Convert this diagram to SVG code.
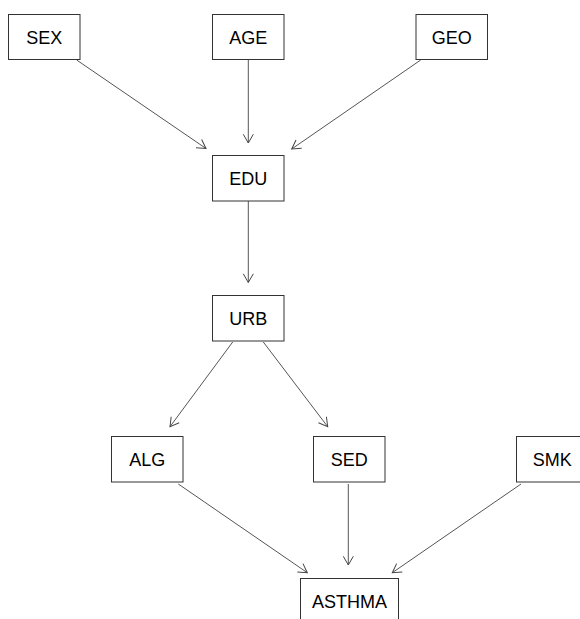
<svg xmlns="http://www.w3.org/2000/svg" width="580" height="619" viewBox="0 0 580 619">
  <style>
    .box { fill: #ffffff; stroke: #333333; stroke-width: 1; }
    .lbl { font-family: "Liberation Sans", Arial, sans-serif; font-size: 18px; fill: #000000; text-anchor: middle; }
    .edge { fill: none; stroke: #555555; stroke-width: 1; marker-end: url(#vhead); }
  </style>
  <defs>
    <marker id="vhead" markerUnits="userSpaceOnUse" markerWidth="14" markerHeight="14" viewBox="-10 -7 12 14" refX="0" refY="0" orient="auto" overflow="visible">
      <path d="M -8.7 -5 L 0 0 L -8.7 5" fill="none" stroke="#444444" stroke-width="1"/>
    </marker>
  </defs>
  <rect width="580" height="619" fill="#ffffff"/>

  <g id="edges">
    <line class="edge" x1="76.7" y1="60" x2="206" y2="148.5"/>
    <line class="edge" x1="248.3" y1="60" x2="248.3" y2="143"/>
    <line class="edge" x1="420.7" y1="60" x2="291.7" y2="149"/>
    <line class="edge" x1="248.3" y1="201" x2="248.3" y2="282.5"/>
    <line class="edge" x1="232.7" y1="342" x2="170" y2="426.7"/>
    <line class="edge" x1="263.3" y1="342" x2="327.7" y2="426.7"/>
    <line class="edge" x1="178.3" y1="484" x2="307.3" y2="572.7"/>
    <line class="edge" x1="348.3" y1="484" x2="348.3" y2="565"/>
    <line class="edge" x1="521" y1="484" x2="392.3" y2="572.7"/>
  </g>

  <g id="SEX">
    <rect class="box" x="8.5" y="14.5" width="71.5" height="45"/>
    <text class="lbl" x="44.2" y="44">SEX</text>
  </g>
  <g id="AGE">
    <rect class="box" x="212.5" y="14.5" width="71.5" height="45"/>
    <text class="lbl" x="248.2" y="44">AGE</text>
  </g>
  <g id="GEO">
    <rect class="box" x="416" y="14.5" width="71.5" height="45"/>
    <text class="lbl" x="451.7" y="44">GEO</text>
  </g>
  <g id="EDU">
    <rect class="box" x="212.5" y="155.5" width="71.5" height="45.5"/>
    <text class="lbl" x="248.2" y="185.3">EDU</text>
  </g>
  <g id="URB">
    <rect class="box" x="212.5" y="295.5" width="71.5" height="45.5"/>
    <text class="lbl" x="248.2" y="325.3">URB</text>
  </g>
  <g id="ALG">
    <rect class="box" x="111.5" y="436.5" width="71.5" height="45.5"/>
    <text class="lbl" x="147.2" y="466.3">ALG</text>
  </g>
  <g id="SED">
    <rect class="box" x="313.5" y="436.5" width="71.5" height="45.5"/>
    <text class="lbl" x="349.2" y="466.3">SED</text>
  </g>
  <g id="SMK">
    <rect class="box" x="516.5" y="436.5" width="71.5" height="45.5"/>
    <text class="lbl" x="552.2" y="466.3">SMK</text>
  </g>
  <g id="ASTHMA">
    <rect class="box" x="300.5" y="578.5" width="98" height="45.5"/>
    <text class="lbl" x="349.5" y="608.3">ASTHMA</text>
  </g>
</svg>
